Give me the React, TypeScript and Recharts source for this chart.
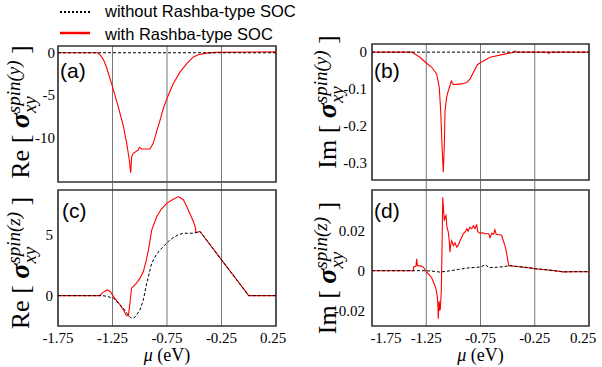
import { LineChart, Line, XAxis, YAxis, CartesianGrid, ReferenceArea } from "recharts"

const SERIF = "'Liberation Serif', 'Times New Roman', serif"
const SANS = "'Liberation Sans', Arial, sans-serif"

const X_TICKS = [-1.75, -1.25, -0.75, -0.25, 0.25]
const X_TICK_LABELS = ["-1.75", "-1.25", "-0.75", "-0.25", "0.25"]

// (a) Re sigma spin(y)
const aRedMu = [-1.75, -1.385, -1.36, -1.33, -1.303, -1.25, -1.197, -1.15, -1.12, -1.096, -1.083, -1.074, -1.059, -1.013, -1.004, -0.982, -0.906, -0.875, -0.845, -0.814, -0.784, -0.744, -0.692, -0.631, -0.569, -0.508, -0.463, -0.386, -0.3, 0.25]
const aRedVal = [0, 0, -0.3, -0.9, -1.8, -4.0, -6.4, -8.7, -10.7, -12.7, -14.2, -12.3, -11.9, -11.5, -11.2, -11.4, -11.4, -10.7, -9.3, -8.0, -6.6, -5.2, -3.65, -2.3, -1.3, -0.5, -0.24, -0.04, 0.05, 0.1]
const aBlackMu = [-1.75, 0.25]
const aBlackVal = [0, 0]
const aYTicks = [0, -5, -10]
const aYTickLabels = ["0", "-5", "-10"]

// (b) Im sigma spin(y)
const bRedMu = [-1.75, -1.384, -1.308, -1.255, -1.2, -1.154, -1.13, -1.117, -1.105, -1.093, -1.083, -1.077, -1.062, -1.047, -1.031, -1.019, -1.0, -0.923, -0.877, -0.847, -0.816, -0.779, -0.748, -0.662, -0.508, -0.45, -0.43, -0.42, -0.13, -0.12, -0.11, 0.25]
const bRedVal = [0, 0, -0.014, -0.028, -0.041, -0.059, -0.095, -0.159, -0.249, -0.325, -0.249, -0.159, -0.122, -0.105, -0.091, -0.078, -0.088, -0.086, -0.082, -0.073, -0.055, -0.034, -0.028, -0.014, -0.004, -0.001, 0.003, 0, 0, -0.004, 0, 0]
const bBlackMu = [-1.75, 0.25]
const bBlackVal = [0, 0]
const bYTicks = [0, -0.1, -0.2, -0.3]
const bYTickLabels = ["0", "-0.1", "-0.2", "-0.3"]

// (c) Re sigma spin(z)
const cRedMu = [-1.75, -1.365, -1.34, -1.3, -1.27, -1.24, -1.18, -1.145, -1.126, -1.105, -1.09, -1.075, -1.05, -1.03, -1.0, -0.967, -0.94, -0.92, -0.89, -0.845, -0.8, -0.753, -0.7, -0.646, -0.6, -0.569, -0.508, -0.49, -0.484, -0.447, 0.0, 0.25]
const cRedVal = [0, 0, 0.25, 0.47, 0.35, -0.08, -0.77, -1.25, -1.6, -1.67, -0.63, 0.61, 0.85, 1.02, 1.4, 1.98, 2.9, 3.77, 5.4, 6.5, 7.15, 7.6, 7.9, 8.16, 7.9, 7.34, 6.1, 5.6, 5.2, 5.28, 0, 0]
const cBlackMu = [-1.75, -1.34, -1.3, -1.24, -1.15, -1.105, -1.075, -1.055, -1.03, -0.998, -0.967, -0.936, -0.89, -0.85, -0.814, -0.722, -0.65, -0.6, -0.508, -0.447, 0.0, 0.25]
const cBlackVal = [0, 0, -0.06, -0.22, -1.04, -1.6, -1.87, -1.85, -1.6, -1.18, -0.35, 1.02, 2.67, 3.35, 3.77, 4.6, 5.0, 5.14, 5.14, 5.28, 0, 0]
const cYTicks = [0, 5]
const cYTickLabels = ["0", "5"]

// (d) Im sigma spin(z)
const dRedMu = [-1.75, -1.37, -1.365, -1.345, -1.338, -1.332, -1.3, -1.277, -1.26, -1.246, -1.22, -1.2, -1.17, -1.155, -1.148, -1.142, -1.139, -1.134, -1.13, -1.125, -1.12, -1.111, -1.105, -1.098, -1.09, -1.083, -1.075, -1.068, -1.06, -1.047, -1.04, -1.031, -1.025, -1.016, -1.0, -0.985, -0.969, -0.955, -0.939, -0.925, -0.909, -0.89, -0.875, -0.865, -0.847, -0.83, -0.815, -0.8, -0.785, -0.775, -0.755, -0.73, -0.71, -0.693, -0.675, -0.662, -0.645, -0.63, -0.617, -0.605, -0.58, -0.555, -0.54, -0.525, -0.51, -0.503, -0.49, -0.478, -0.4, -0.31, -0.25, -0.1, 0.013, 0.1, 0.25]
const dRedVal = [0, 0, 0.002, 0.0022, 0.006, 0.0025, 0.0024, 0.0018, 0.0005, -0.0007, -0.0022, -0.0035, -0.0074, -0.0105, -0.013, -0.018, -0.024, -0.016, -0.0157, -0.02, -0.019, -0.0099, 0.01, 0.0368, 0.03, 0.025, 0.027, 0.0277, 0.022, 0.0193, 0.016, 0.0093, 0.013, 0.015, 0.0125, 0.014, 0.0118, 0.0128, 0.015, 0.0165, 0.0185, 0.0195, 0.021, 0.0198, 0.0218, 0.021, 0.0225, 0.021, 0.0232, 0.0195, 0.0188, 0.019, 0.0185, 0.0185, 0.0185, 0.0165, 0.0188, 0.0182, 0.0205, 0.0182, 0.018, 0.0177, 0.015, 0.0127, 0.009, 0.0068, 0.0025, 0.0025, 0.002, 0.0015, 0.001, 0.0002, -0.0006, -0.0005, -0.0005]
const dBlackMu = [-1.75, -1.27, -1.2, -1.123, -1.05, -0.954, -0.877, -0.755, -0.7, -0.677, -0.57, -0.478, -0.386, -0.294, -0.25, -0.1, 0.013, 0.1, 0.25]
const dBlackVal = [0, 0, -0.0002, -0.0007, -0.0002, 0.0006, 0.0013, 0.0018, 0.003, 0.0015, 0.0018, 0.0025, 0.002, 0.0015, 0.001, 0.0002, -0.0006, -0.0005, -0.0005]
const dYTicks = [-0.02, 0, 0.02]
const dYTickLabels = ["-0.02", "0", "0.02"]

const toRows = (mu: number[], val: number[]) => mu.map((m, i) => ({ mu: m, v: val[i] }))

function YLabel({ x, cy, pre, spin }: { x: number; cy: number; pre: string; spin: string }) {
  return (
    <text transform={`translate(${x},${cy}) rotate(-90)`} textAnchor="middle" fontFamily={SERIF} fill="#000">
      <tspan fontSize={26}>{pre} [ </tspan>
      <tspan fontSize={28} fontWeight="bold" fontStyle="italic">σ</tspan>
      <tspan fontSize={19} fontStyle="italic" dy={7}>xy</tspan>
      <tspan fontSize={19} fontStyle="italic" dx={-17} dy={-16}>{`spin(${spin})`}</tspan>
      <tspan fontSize={26} dy={9}> ]</tspan>
    </text>
  )
}

interface PanelProps {
  left: number
  top: number
  width: number
  height: number
  yWidth: number
  marginTop: number
  marginRight: number
  xHeight: number
  yDomain: [number, number]
  yTicks: number[]
  yTickLabels: string[]
  yTickMargin: number
  red: { mu: number; v: number }[]
  black: { mu: number; v: number }[]
  label: { x: number; cy: number; pre: string; spin: string }
  bottom: boolean
  edgeShift?: [number, number]
}

function Panel(p: PanelProps) {
  const gapTick = (t: any) =>
    t.payload.value > -1.7 && t.payload.value < 0.2 ? (
      <line x1={t.x} x2={t.x} y1={t.y} y2={t.y + 9} stroke="#777" strokeWidth={1} />
    ) : (
      <g />
    )
  const labelTick = (t: any) => {
    const i = X_TICKS.indexOf(t.payload.value)
    const shift = i === 0 ? p.edgeShift?.[0] ?? 0 : i === X_TICKS.length - 1 ? p.edgeShift?.[1] ?? 0 : 0
    return (
      <text x={t.x + shift} y={t.y} dy="0.71em" textAnchor="middle" fontFamily={SERIF} fontSize={15} fill="#000">
        {X_TICK_LABELS[i]}
      </text>
    )
  }
  const xLabel = (props: any) => {
    const vb = props.viewBox
    return (
      <text x={vb.x + vb.width / 2} y={175} textAnchor="middle" fontFamily={SERIF} fontSize={18} fill="#000">
        <tspan fontStyle="italic">μ</tspan> (eV)
      </text>
    )
  }

  return (
    <div style={{ position: "absolute", left: p.left, top: p.top }}>
      <LineChart
        width={p.width}
        height={p.height}
        margin={{ top: p.marginTop, right: p.marginRight, left: 0, bottom: 0 }}
      >
        <CartesianGrid horizontal={false} stroke="#777" strokeWidth={1} />
        <XAxis
          type="number"
          dataKey="mu"
          domain={[-1.75, 0.25]}
          ticks={X_TICKS}
          interval={0}
          height={p.xHeight}
          axisLine={false}
          tickLine={false}
          tickSize={0}
          tickMargin={p.bottom ? 6 : 0}
          tick={p.bottom ? labelTick : gapTick}
          label={p.bottom ? xLabel : undefined}
        />
        <YAxis
          type="number"
          domain={p.yDomain}
          allowDataOverflow
          ticks={p.yTicks}
          interval={0}
          width={p.yWidth}
          axisLine={false}
          tickLine={false}
          tickSize={0}
          tickMargin={p.yTickMargin}
          tick={{ fontFamily: SERIF, fontSize: 15, fill: "#000" }}
          tickFormatter={(v: number) => p.yTickLabels[p.yTicks.indexOf(v)] ?? String(v)}
          label={<YLabel {...p.label} />}
        />
        <ReferenceArea
          x1={-1.75}
          x2={0.25}
          y1={p.yDomain[0]}
          y2={p.yDomain[1]}
          fill="none"
          fillOpacity={0}
          stroke="#333"
          strokeWidth={1.5}
          ifOverflow="visible"
        />
        <Line
          data={p.red}
          dataKey="v"
          type="linear"
          stroke="#ff0000"
          strokeWidth={1.1}
          dot={false}
          isAnimationActive={false}
        />
        <Line
          data={p.black}
          dataKey="v"
          type="linear"
          stroke="#000"
          strokeWidth={1}
          strokeDasharray="3 2"
          dot={false}
          isAnimationActive={false}
        />
      </LineChart>
    </div>
  )
}

export default function App() {
  return (
    <div style={{ position: "absolute", left: 0, top: 0, width: 602, height: 367, background: "#fff" }}>
      <Panel
        left={0}
        top={0}
        width={300}
        height={190}
        yWidth={58}
        marginTop={46}
        marginRight={24}
        xHeight={8}
        yDomain={[-15.3, 0.8]}
        yTicks={aYTicks}
        yTickLabels={aYTickLabels}
        yTickMargin={3}
        red={toRows(aRedMu, aRedVal)}
        black={toRows(aBlackMu, aBlackVal)}
        label={{ x: 27, cy: 112, pre: "Re", spin: "y" }}
        bottom={false}
      />
      <Panel
        left={300}
        top={0}
        width={302}
        height={190}
        yWidth={72}
        marginTop={44}
        marginRight={13}
        xHeight={10}
        yDomain={[-0.346, 0.022]}
        yTicks={bYTicks}
        yTickLabels={bYTickLabels}
        yTickMargin={5}
        red={toRows(bRedMu, bRedVal)}
        black={toRows(bBlackMu, bBlackVal)}
        label={{ x: 28, cy: 102, pre: "Im", spin: "y" }}
        bottom={false}
      />
      <Panel
        left={0}
        top={186}
        width={300}
        height={181}
        yWidth={58}
        marginTop={4}
        marginRight={24}
        xHeight={41}
        yDomain={[-2.5, 8.7]}
        yTicks={cYTicks}
        yTickLabels={cYTickLabels}
        yTickMargin={5}
        red={toRows(cRedMu, cRedVal)}
        black={toRows(cBlackMu, cBlackVal)}
        label={{ x: 27, cy: 77, pre: "Re", spin: "z" }}
        bottom={true}
        edgeShift={[0, -3]}
      />
      <Panel
        left={300}
        top={186}
        width={302}
        height={181}
        yWidth={72}
        marginTop={4}
        marginRight={13}
        xHeight={41}
        yDomain={[-0.0277, 0.0404]}
        yTicks={dYTicks}
        yTickLabels={dYTickLabels}
        yTickMargin={7}
        red={toRows(dRedMu, dRedVal)}
        black={toRows(dBlackMu, dBlackVal)}
        label={{ x: 28, cy: 82, pre: "Im", spin: "z" }}
        bottom={true}
        edgeShift={[14, -6]}
      />
      <svg width={602} height={367} style={{ position: "absolute", left: 0, top: 0, pointerEvents: "none" }}>
        <line x1={60} x2={90} y1={12} y2={12} stroke="#000" strokeWidth={2} strokeDasharray="2 2" />
        <line x1={60} x2={90} y1={33} y2={33} stroke="#ff0000" strokeWidth={2.5} />
        <text x={105} y={17} fontFamily={SANS} fontSize={16.5} fill="#000">without Rashba-type SOC</text>
        <text x={105} y={40} fontFamily={SANS} fontSize={16.5} fill="#000">with Rashba-type SOC</text>
        <text x={60} y={78} fontFamily={SANS} fontSize={21} fill="#000">(a)</text>
        <text x={374} y={78} fontFamily={SANS} fontSize={21} fill="#000">(b)</text>
        <text x={62} y={218} fontFamily={SANS} fontSize={21} fill="#000">(c)</text>
        <text x={374} y={218} fontFamily={SANS} fontSize={21} fill="#000">(d)</text>
      </svg>
    </div>
  )
}
